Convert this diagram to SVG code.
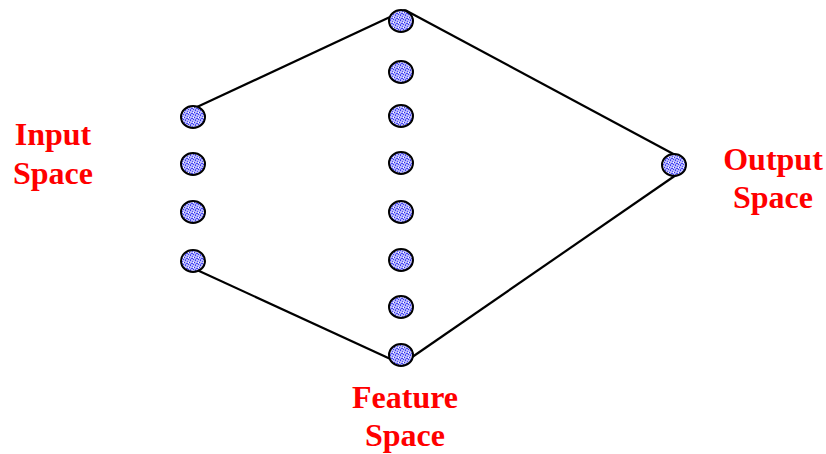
<svg xmlns="http://www.w3.org/2000/svg" width="826" height="454" viewBox="0 0 826 454">
  <defs>
    <!-- speckled blue fill used inside every node -->
    <pattern id="speckle" width="5" height="5" patternUnits="userSpaceOnUse">
      <rect width="5" height="5" fill="#b8b8fa"/>
      <rect x="0" y="0" width="1" height="1" fill="#3a3af0"/>
      <rect x="2" y="1" width="1" height="1" fill="#5050ff"/>
      <rect x="4" y="2" width="1" height="1" fill="#2c2ce0"/>
      <rect x="1" y="3" width="1" height="1" fill="#4848f8"/>
      <rect x="3" y="4" width="1" height="1" fill="#3535ea"/>
      <rect x="3" y="2" width="1" height="1" fill="#ffffff"/>
      <rect x="0" y="4" width="1" height="1" fill="#6060ff"/>
      <rect x="2" y="3" width="1" height="1" fill="#4040f4"/>
    </pattern>
  </defs>
  <style>
    .node { fill: url(#speckle); stroke: #000; stroke-width: 2; }
    .edge { stroke: #000; stroke-width: 2.2; fill: none; }
    .label { font-family: "Liberation Serif", "Times New Roman", serif; font-weight: bold; font-size: 32px; fill: #ff0000; text-anchor: middle; }
  </style>

  <rect width="826" height="454" fill="#ffffff"/>

  <!-- connectors -->
  <g id="connectors">
    <line class="edge" x1="197" y1="107" x2="405" y2="10"/>
    <line class="edge" x1="405" y1="10" x2="679" y2="157"/>
    <line class="edge" x1="197" y1="270" x2="397" y2="362"/>
    <line class="edge" x1="405" y1="362" x2="676" y2="175"/>
  </g>

  <!-- input layer -->
  <g id="input-1"><ellipse class="node" cx="193" cy="117" rx="12" ry="11"/></g>
  <g id="input-2"><ellipse class="node" cx="193" cy="164" rx="12" ry="11"/></g>
  <g id="input-3"><ellipse class="node" cx="193" cy="212" rx="12" ry="11"/></g>
  <g id="input-4"><ellipse class="node" cx="193" cy="261" rx="12" ry="11"/></g>

  <!-- feature layer -->
  <g id="feature-1"><ellipse class="node" cx="401" cy="21" rx="12" ry="11"/></g>
  <g id="feature-2"><ellipse class="node" cx="401" cy="72" rx="12" ry="11"/></g>
  <g id="feature-3"><ellipse class="node" cx="401" cy="116" rx="12" ry="11"/></g>
  <g id="feature-4"><ellipse class="node" cx="401" cy="163" rx="12" ry="11"/></g>
  <g id="feature-5"><ellipse class="node" cx="401" cy="212" rx="12" ry="11"/></g>
  <g id="feature-6"><ellipse class="node" cx="401" cy="260" rx="12" ry="11"/></g>
  <g id="feature-7"><ellipse class="node" cx="401" cy="307" rx="12" ry="11"/></g>
  <g id="feature-8"><ellipse class="node" cx="401" cy="355" rx="12" ry="11"/></g>

  <!-- output node -->
  <g id="output-1"><ellipse class="node" cx="674" cy="165" rx="12" ry="11"/></g>

  <!-- space labels -->
  <g id="label-input">
    <text class="label" x="53" y="145">Input</text>
    <text class="label" x="53" y="184">Space</text>
  </g>
  <g id="label-feature">
    <text class="label" x="405" y="408">Feature</text>
    <text class="label" x="405" y="446">Space</text>
  </g>
  <g id="label-output">
    <text class="label" x="773" y="170">Output</text>
    <text class="label" x="773" y="208">Space</text>
  </g>
</svg>
